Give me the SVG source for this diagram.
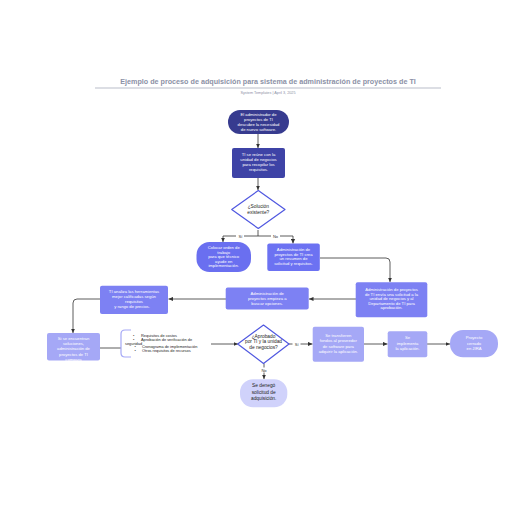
<svg xmlns="http://www.w3.org/2000/svg" width="516" height="516" viewBox="0 0 516 516">
<defs>
<marker id="arr" markerUnits="userSpaceOnUse" markerWidth="5" markerHeight="5" refX="4.5" refY="2.5" orient="auto">
<path d="M0,0.4 L4.5,2.5 L0,4.6 Z" fill="#333"/>
</marker>
</defs>
<style>
.t{font-family:"Liberation Sans",Arial,sans-serif;font-size:4.2px;fill:#ffffff;text-anchor:middle}
.d{font-family:"Liberation Sans",Arial,sans-serif;font-size:4.8px;fill:#222;text-anchor:middle}
.l{font-family:"Liberation Sans",Arial,sans-serif;font-size:3.9px;fill:#222}
.lab{font-family:"Liberation Sans",Arial,sans-serif;font-size:4px;fill:#333;text-anchor:middle}
.c{fill:none;stroke:#333;stroke-width:0.8}
.ca{fill:none;stroke:#333;stroke-width:0.8;marker-end:url(#arr)}
.dia{fill:#ffffff;stroke:#5058e0;stroke-width:1.2;stroke-linejoin:round}
</style>
<rect width="516" height="516" fill="#ffffff"/>
<g id="title">
<text x="268" y="84" font-family="Liberation Sans,Arial,sans-serif" font-size="7.2" font-weight="bold" fill="#8c91a6" text-anchor="middle">Ejemplo de proceso de adquisición para sistema de administración de proyectos de TI</text>
<line x1="95" y1="88" x2="441" y2="88" stroke="#8c91a6" stroke-width="0.6"/>
<text x="268" y="94" font-family="Liberation Sans,Arial,sans-serif" font-size="3.8" fill="#8c91a6" text-anchor="middle">System Templates  |  April 3, 2025</text>
</g>
<g id="connectors">
<path class="ca" d="M258 134 V148"/>
<path class="ca" d="M258 178 V190"/>
<path class="c" d="M258 230 V236 M223 236 H293"/>
<path class="ca" d="M223 236 V242"/>
<path class="ca" d="M293 236 V243.5"/>
<path class="ca" d="M320 258 H386 Q390 258 390 262 V282"/>
<path class="ca" d="M356 299 H309"/>
<path class="ca" d="M226 299 H168.5"/>
<path class="ca" d="M100 299 H77 Q73 299 73 303 V333"/>
<path class="c" d="M100 348 H121" stroke-width="1"/>
<path class="ca" d="M211 344 H238"/>
<path class="ca" d="M289 344 H312.5"/>
<path class="ca" d="M364 344 H387.5"/>
<path class="ca" d="M427 344 H450"/>
<path class="ca" d="M264 363.5 V379"/>
<rect x="236" y="233.5" width="8" height="5" fill="#fff"/>
<text class="lab" x="240.5" y="237.5">Sí</text>
<rect x="271" y="233.5" width="9" height="5" fill="#fff"/>
<text class="lab" x="275.5" y="237.5">No</text>
<rect x="292.5" y="341.5" width="8" height="5" fill="#fff"/>
<text class="lab" x="296.7" y="345.5">Sí</text>
<rect x="259.5" y="367.5" width="9" height="5" fill="#fff"/>
<text class="lab" x="264" y="371.5">No</text>
</g>
<g id="n1">
<rect x="228" y="110" width="61" height="24" rx="12" fill="#373b8f"/>
<text class="t" x="258.5" y="116"><tspan x="258.5">El administrador de</tspan><tspan x="258.5" dy="4.9">proyectos de TI</tspan><tspan x="258.5" dy="4.9">descubre la necesidad</tspan><tspan x="258.5" dy="4.9">de nuevo software.</tspan></text>
</g>
<g id="n2">
<rect x="232" y="148" width="53" height="30" rx="2" fill="#3e43a6"/>
<text class="t" x="258.5" y="156"><tspan x="258.5">TI se reúne con la</tspan><tspan x="258.5" dy="5">unidad de negocios</tspan><tspan x="258.5" dy="5">para recopilar los</tspan><tspan x="258.5" dy="5">requisitos.</tspan></text>
</g>
<g id="d1">
<polygon class="dia" points="258.3,190.5 285,209.5 258.3,228.5 231.7,209.5"/>
<text class="d" x="258.3" y="208" font-size="4.5"><tspan x="258.3">¿Solución</tspan><tspan x="258.3" dy="5.6">existente?</tspan></text>
</g>
<g id="n3">
<rect x="196.5" y="242" width="54.5" height="30" rx="13" fill="#6a6ff0"/>
<text class="t" x="223.7" y="249"><tspan x="223.7">Colocar orden de</tspan><tspan x="223.7" dy="4.5">trabajo</tspan><tspan x="223.7" dy="4.5">para que técnico</tspan><tspan x="223.7" dy="4.5">ayude en</tspan><tspan x="223.7" dy="4.5">implementación.</tspan></text>
</g>
<g id="n4">
<rect x="267.3" y="243.5" width="52.5" height="27.5" rx="2" fill="#6c72f2"/>
<text class="t" x="293.5" y="251"><tspan x="293.5">Administración de</tspan><tspan x="293.5" dy="4.7">proyectos de TI crea</tspan><tspan x="293.5" dy="4.7">un resumen de</tspan><tspan x="293.5" dy="4.7">solicitud y requisitos.</tspan></text>
</g>
<g id="n5">
<rect x="355.7" y="282.3" width="71.6" height="35" rx="2" fill="#7d81f3"/>
<text class="t" x="391.5" y="291"><tspan x="391.5">Administración de proyectos</tspan><tspan x="391.5" dy="4.6">de TI envía una solicitud a la</tspan><tspan x="391.5" dy="4.6">unidad de negocios y al</tspan><tspan x="391.5" dy="4.6">Departamento de TI para</tspan><tspan x="391.5" dy="4.6">aprobación.</tspan></text>
</g>
<g id="n6">
<rect x="225.7" y="287.5" width="83" height="22" rx="2" fill="#7d81f3"/>
<text class="t" x="267.2" y="295"><tspan x="267.2">Administración de</tspan><tspan x="267.2" dy="5.2">proyectos empieza a</tspan><tspan x="267.2" dy="5.2">buscar opciones.</tspan></text>
</g>
<g id="n7">
<rect x="100" y="285.7" width="68" height="28.3" rx="2" fill="#7d81f3"/>
<text class="t" x="134" y="292.5"><tspan x="134">TI analiza las herramientas</tspan><tspan x="134" dy="5">mejor calificadas según</tspan><tspan x="134" dy="5">requisitos</tspan><tspan x="132" dy="5.4">y rango de precios.</tspan></text>
</g>
<g id="n8">
<rect x="47" y="333" width="53" height="27.5" rx="2" fill="#a5a8f6"/>
<text class="t" x="73.5" y="340"><tspan x="73.5">Si se encuentran</tspan><tspan x="73.5" dy="5.2">soluciones,</tspan><tspan x="73.5" dy="5.2">administración de</tspan><tspan x="73.5" dy="5.2">proyectos de TI</tspan><tspan x="73.5" dy="5.4">compara</tspan></text>
</g>
<g id="list">
<path d="M131 330 H125 Q121 330 121 334 V353 Q121 357 125 357 H131" fill="none" stroke="#a5a8f6" stroke-width="1.2"/>
<text class="l" x="133" y="336.5">•</text><text class="l" x="141" y="336.5">Requisitos de costos</text>
<text class="l" x="133" y="340.5">•</text><text class="l" x="141" y="340.5">Aprobación de verificación de</text>
<text class="l" x="125" y="344.5">seguridad</text>
<text class="l" x="134.5" y="348.3">•</text><text class="l" x="142" y="348.3">Cronograma de implementación</text>
<text class="l" x="134.5" y="352">•</text><text class="l" x="142" y="352">Otros requisitos de recursos</text>
</g>
<g id="d2">
<polygon class="dia" points="263.5,325 289,344 263.5,363.5 237.7,344"/>
<text class="d" x="263.5" y="337.5"><tspan x="263.5">¿Aprobado</tspan><tspan x="263.5" dy="5.9">por TI y la unidad</tspan><tspan x="263.5" dy="5.9">de negocios?</tspan></text>
</g>
<g id="n9">
<rect x="312.7" y="326.7" width="51.3" height="35" rx="2" fill="#a5a8f6"/>
<text class="t" x="338.3" y="337"><tspan x="338.3">Se transfieren</tspan><tspan x="338.3" dy="5.3">fondos al proveedor</tspan><tspan x="338.3" dy="5.3">de software para</tspan><tspan x="338.3" dy="5.3">adquirir la aplicación.</tspan></text>
</g>
<g id="n10">
<rect x="387.7" y="331.3" width="39.6" height="26" rx="2" fill="#a5a8f6"/>
<text class="t" x="407.5" y="338.8" font-size="4.6"><tspan x="407.5">Se</tspan><tspan x="407.5" dy="5.8">implementa</tspan><tspan x="407.5" dy="5.8">la aplicación.</tspan></text>
</g>
<g id="n11">
<rect x="450" y="330" width="48" height="27.3" rx="13" fill="#a5a8f6"/>
<text class="t" x="474" y="339" font-size="4.6"><tspan x="474">Proyecto</tspan><tspan x="474" dy="5.5">cerrado</tspan><tspan x="474" dy="5.5">en JIRA</tspan></text>
</g>
<g id="n12">
<rect x="240" y="379.3" width="47.3" height="28" rx="13" fill="#d0d2fb"/>
<text class="d" x="263.7" y="387" fill="#2a2a5a" font-size="4.6"><tspan x="263.7">Se denegó</tspan><tspan x="263.7" dy="6.5">solicitud de</tspan><tspan x="263.7" dy="6.5">adquisición.</tspan></text>
</g>
</svg>
